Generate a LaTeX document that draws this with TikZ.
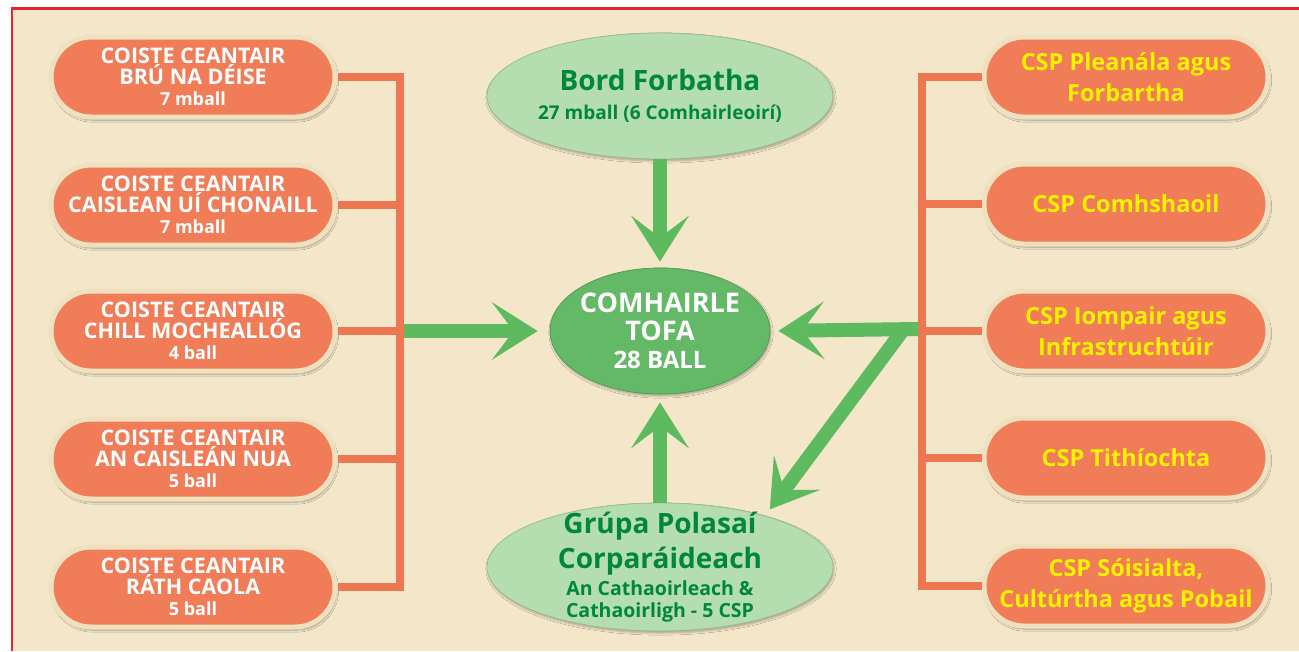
\documentclass[tikz,border=0pt]{standalone}
\usepackage{fontspec}
\setmainfont{Open Sans}
\usetikzlibrary{arrows.meta,shapes.misc,shapes.geometric,shadows.blur}
\definecolor{bg}{HTML}{F3E6C9}
\definecolor{pillor}{HTML}{F07C58}
\definecolor{rim}{HTML}{EFE0BF}
\definecolor{brk}{HTML}{EE7652}
\definecolor{garrow}{HTML}{5DBA5F}
\definecolor{gmid}{HTML}{63B966}
\definecolor{glight}{HTML}{B4DDB0}
\definecolor{gtext}{HTML}{00873C}
\definecolor{ytext}{HTML}{FFF200}
\definecolor{bred}{HTML}{E3262B}
\begin{document}
\begin{tikzpicture}[x=1pt,y=-1pt,
  pill/.style={rounded rectangle, fill=pillor, draw=rim, line width=5pt,
    minimum width=284pt, minimum height=80pt, inner sep=0pt, align=center,
    blur shadow={shadow xshift=1.5pt, shadow yshift=-3pt, shadow blur steps=6, shadow opacity=35}},
  lefttxt/.style={text=white, font=\fontsize{21.5}{20.8}\selectfont\bfseries},
  righttxt/.style={text=ytext, font=\fontsize{23.5}{31}\selectfont\bfseries},
  bigell/.style={ellipse, fill=glight, draw=glight!85!black, line width=0.8pt, inner sep=-12pt, align=center,
    blur shadow={shadow xshift=1pt, shadow yshift=-2pt, shadow blur steps=5, shadow opacity=30}},
  bracket/.style={draw=brk, line width=8pt, line join=miter},
  garr/.style={draw=garrow, line width=14pt,
    -{Stealth[length=46pt,width=58pt,inset=22pt,line width=0pt]}, shorten >=8pt}
]
\useasboundingbox (0,0) rectangle (1299,651);
\fill[white] (0,0) rectangle (1299,651);
\fill[bg] (12,8) rectangle (1299,651);
\draw[bred, line width=2.2pt] (12,651) -- (12,8.5) -- (1299,8.5);

% left committees
\node[pill, lefttxt] (L1) at (193,77) {COISTE CEANTAIR\\BRÚ NA DÉISE\\{\fontsize{18}{20.8}\selectfont 7 mball}};
\node[pill, lefttxt] (L2) at (193,205) {COISTE CEANTAIR\\CAISLEAN UÍ CHONAILL\\{\fontsize{18}{20.8}\selectfont 7 mball}};
\node[pill, lefttxt] (L3) at (193,331) {COISTE CEANTAIR\\CHILL MOCHEALLÓG\\{\fontsize{18}{20.8}\selectfont 4 ball}};
\node[pill, lefttxt] (L4) at (193,459) {COISTE CEANTAIR\\AN CAISLEÁN NUA\\{\fontsize{18}{20.8}\selectfont 5 ball}};
\node[pill, lefttxt] (L5) at (193,587) {COISTE CEANTAIR\\RÁTH CAOLA\\{\fontsize{18}{20.8}\selectfont 5 ball}};

% right committees
\node[pill, righttxt] (R1) at (1126,77) {CSP Pleanála agus\\Forbartha};
\node[pill, righttxt] (R2) at (1126,204) {CSP Comhshaoil};
\node[pill, righttxt] (R3) at (1126,331) {CSP Iompair agus\\Infrastruchtúir};
\node[pill, righttxt] (R4) at (1126,458) {CSP Tithíochta};
\node[pill, righttxt] (R5) at (1126,586) {CSP Sóisialta,\\Cultúrtha agus Pobail};

% brackets
\coordinate (lbx) at (400,0);
\coordinate (rbx) at (922,0);
\draw[bracket] (L1.east) -- (L1.east -| lbx) -- (L5.east -| lbx) -- (L5.east);
\foreach \i in {2,3,4} \draw[bracket] (L\i.east) -- (L\i.east -| lbx);
\draw[bracket] (R1.west) -- (R1.west -| rbx) -- (R5.west -| rbx) -- (R5.west);
\foreach \i in {2,3,4} \draw[bracket] (R\i.west) -- (R\i.west -| rbx);

% central bodies
\node[bigell, minimum width=346pt, minimum height=126pt, text=gtext,
  font=\fontsize{28}{29}\selectfont\bfseries] (B) at (660,96)
  {Bord Forbatha\\{\fontsize{19}{29}\selectfont 27 mball (6 Comhairleoirí)}};
\node[ellipse, fill=gmid, draw=gmid!85!black, line width=0.8pt, inner sep=-12pt, align=center,
  minimum width=220pt, minimum height=126pt, text=white,
  blur shadow={shadow xshift=1pt, shadow yshift=-2pt, shadow blur steps=5, shadow opacity=30},
  font=\fontsize{27}{28}\selectfont\bfseries] (C) at (660,331)
  {COMHAIRLE\\TOFA\\{\fontsize{24}{28}\selectfont 28 BALL}};
\node[bigell, minimum width=346pt, minimum height=128pt, text=gtext,
  font=\fontsize{28}{35}\selectfont\bfseries] (G) at (660,567)
  {Grúpa Polasaí\\Corparáideach\\[-8pt]{\fontsize{19.5}{35}\selectfont An Cathaoirleach \&}\\[-13pt]{\fontsize{19.5}{35}\selectfont Cathaoirligh - 5 CSP}};

% green arrows
\coordinate (lm) at (404,331);
\coordinate (rm) at (918,329);
\coordinate (dm) at (903,330);
\draw[garr, shorten >=12pt] (lm) -- (C.west);
\draw[garr] (rm) -- (C.east);
\draw[garr, shorten >=6pt] (B.south) -- (C.north);
\draw[garr] (G.north) -- (C.south);
\draw[garr] (dm) -- (G.26);
\end{tikzpicture}
\end{document}
